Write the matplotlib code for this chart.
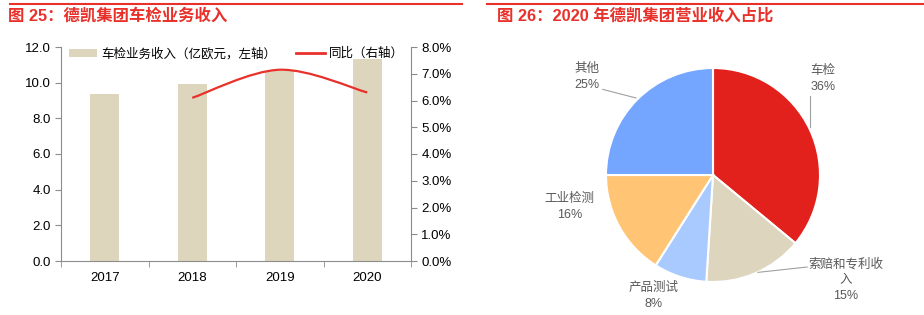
import numpy as np
import matplotlib.pyplot as plt
from matplotlib.path import Path
from matplotlib.patches import PathPatch

plt.rcParams['font.family'] = ['Liberation Sans', 'Noto Sans CJK SC']

# left chart data
years = ['2017', '2018', '2019', '2020']
revenue = [9.36, 9.93, 10.64, 11.31]      # 亿欧元
yoy_years = [1, 2, 3]
yoy = [6.1, 7.15, 6.3]                    # %

# right chart data
pie_labels = ['车检', '索赔和专利收\n入', '产品测试', '工业检测', '其他']
pie_share = [36, 15, 8, 16, 25]
pie_colors = ['#E2211C', '#DDD5BE', '#A9CAFF', '#FFC575', '#74A5FF']

RED = '#E8312A'
GRAY = '#8C8C8C'

fig = plt.figure(figsize=(9.24, 3.15), dpi=100)

# top red rules and titles
fig.add_artist(plt.Line2D([10 / 924, 462 / 924], [1 - 4 / 315] * 2, color=RED, lw=1.5))
fig.add_artist(plt.Line2D([487 / 924, 1.0], [1 - 4 / 315] * 2, color=RED, lw=1.5))
fig.text(8 / 924, 1 - 16 / 315, '图 25：德凯集团车检业务收入', color=RED, fontsize=11.8,
         fontweight='bold', va='center', ha='left')
fig.text(497 / 924, 1 - 16 / 315, '图 26：2020 年德凯集团营业收入占比', color=RED, fontsize=11.8,
         fontweight='bold', va='center', ha='left')

# ---- bar + line chart
ax = fig.add_axes([61 / 924, 1 - 261 / 315, 350 / 924, 214 / 315])
x = np.arange(len(years))
ax.bar(x, revenue, width=0.33, color='#DDD5BC', label='车检业务收入（亿欧元，左轴）', zorder=2)
ax.set_xlim(-0.5, 3.5)
ax.set_ylim(0, 12)
ax.set_yticks(np.arange(0, 12.1, 2))
ax.set_yticklabels(['%.1f' % v for v in np.arange(0, 12.1, 2)], fontsize=9.5)
ax.set_xticks(x)
ax.set_xticklabels(years, fontsize=9.5)
ax.set_xticks(np.arange(-0.5, 3.6, 1), minor=True)
ax.tick_params(axis='x', which='major', length=0, pad=8)
ax.tick_params(axis='x', which='minor', length=4, color=GRAY, direction='out')
ax.tick_params(axis='y', length=4, color=GRAY, direction='out')
for s in ['top', 'right']:
    ax.spines[s].set_visible(False)
for s in ['left', 'bottom']:
    ax.spines[s].set_color(GRAY)

ax2 = ax.twinx()
ax2.set_ylim(0, 8)
ax2.set_yticks(np.arange(0, 8.1, 1))
ax2.set_yticklabels(['%.1f%%' % v for v in np.arange(0, 8.1, 1)], fontsize=9.5)
ax2.tick_params(axis='y', length=4, color=GRAY, direction='out')
for s in ['top', 'left', 'bottom']:
    ax2.spines[s].set_visible(False)
ax2.spines['right'].set_color(GRAY)

# smooth curve through the yoy points (Catmull-Rom as cubic Bezier)
pts = np.column_stack([yoy_years, yoy]).astype(float)
ext = np.vstack([pts[0], pts, pts[-1]])
verts = [tuple(pts[0])]
codes = [Path.MOVETO]
for i in range(1, len(ext) - 2):
    p0, p1, p2, p3 = ext[i - 1], ext[i], ext[i + 1], ext[i + 2]
    c1 = p1 + (p2 - p0) / 6
    c2 = p2 - (p3 - p1) / 6
    verts += [tuple(c1), tuple(c2), tuple(p2)]
    codes += [Path.CURVE4] * 3
ax2.add_patch(PathPatch(Path(verts, codes), fill=False, edgecolor=RED, lw=1.6, zorder=3))
ax2.plot([], [], color=RED, lw=2, label='同比（右轴）')

h1, l1 = ax.get_legend_handles_labels()
h2, l2 = ax2.get_legend_handles_labels()
ax2.legend(h1 + h2, l1 + l2, loc='upper center', bbox_to_anchor=(0.5, 1.05), ncol=2,
           frameon=False, fontsize=9.0, handlelength=2.3, handleheight=0.6,
           columnspacing=1.6, handletextpad=0.3)

# ---- pie chart
pax = fig.add_axes([(713 - 107) / 924, (315 - 175 - 107) / 315, 214 / 924, 214 / 315])
pax.pie(pie_share, colors=pie_colors, startangle=90, counterclock=False, radius=1,
        wedgeprops=dict(edgecolor='white', linewidth=1.5))
pax.set_xlim(-1, 1)
pax.set_ylim(-1, 1)
pax.set_aspect('equal')
pax.axis('off')

# label text positions and leader anchors (pie axes units)
text_pos = [(1.03, 0.90), (1.24, -0.98), (-0.56, -1.13), (-1.34, -0.30), (-1.18, 0.92)]
leaders = [((0.91, 0.45), (0.91, 0.74)), ((0.42, -0.91), (0.88, -0.86)), None, None,
           ((-0.72, 0.72), (-1.03, 0.80))]
for lab, v, tp, ld in zip(pie_labels, pie_share, text_pos, leaders):
    pax.text(tp[0], tp[1], '%s\n%d%%' % (lab, v), ha='center', va='center', fontsize=9,
             color='#595959', linespacing=1.45, clip_on=False)
    if ld is not None:
        pax.plot([ld[0][0], ld[1][0]], [ld[0][1], ld[1][1]], color='#A0A0A0', lw=0.8,
                 clip_on=False)

fig.savefig('out.png', dpi=100)
